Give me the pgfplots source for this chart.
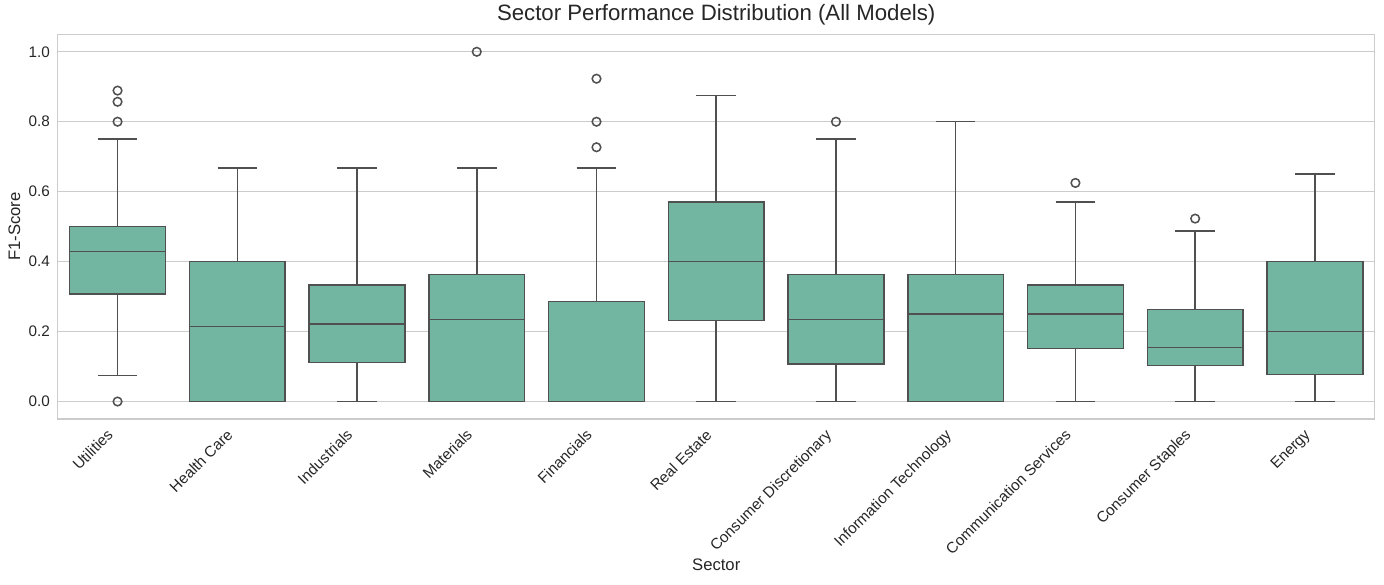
\documentclass[border=0pt]{standalone}
\usepackage{fontspec}
\setmainfont{Liberation Sans}
\usepackage{pgfplots}
\pgfplotsset{compat=1.18}
\usepgfplotslibrary{statistics}
\definecolor{boxfill}{RGB}{114,182,161}
\definecolor{edge}{RGB}{80,80,80}
\definecolor{gridc}{RGB}{204,204,204}
\definecolor{txt}{RGB}{38,38,38}
\pgfplotsset{mybox/.style={draw=edge, fill=boxfill, line width=1.1pt, solid,
  mark=o, mark size=3.1pt, mark options={draw=edge, fill=none, line width=1.1pt, solid}}}
\begin{document}
\begin{tikzpicture}
\begin{axis}[
  scale only axis, width=948.24pt, height=277pt,
  xmin=-0.5, xmax=10.5, ymin=-0.05, ymax=1.05,
  xtick={0,1,2,3,4,5,6,7,8,9,10},
  xticklabels={Utilities,Health Care,Industrials,Materials,Financials,Real Estate,Consumer Discretionary,Information Technology,Communication Services,Consumer Staples,Energy},
  ytick={0,0.2,0.4,0.6,0.8,1.0},
  yticklabels={0.0,0.2,0.4,0.6,0.8,1.0},
  major tick length=0pt,
  ymajorgrids, grid style={draw=gridc, line width=0.8pt},
  axis line style={draw=gridc, line width=1pt},
  tick label style={font=\fontsize{11}{13}\selectfont, text=txt},
  yticklabel style={anchor=east, inner sep=0pt, xshift=-5.5pt},
  xticklabel style={xshift=-8.3pt, yshift=-6.3pt, rotate=45, anchor=north east, inner sep=0pt},
  title={Sector Performance Distribution (All Models)},
  title style={at={(axis description cs:0.5,1.0130)}, anchor=base, font=\fontsize{16}{19}\selectfont, text=txt},
  xlabel={Sector},
  xlabel style={at={(axis description cs:0.5,-0.3942)}, anchor=base, font=\fontsize{12}{14}\selectfont, text=txt},
  ylabel={F1-Score},
  ylabel style={at={(axis description cs:-0.0285,0.5)}, anchor=base, font=\fontsize{12}{14}\selectfont, text=txt},
  boxplot/draw direction=y,
  boxplot/box extend=0.8,
  boxplot/whisker extend=0.33,
]
\addplot[mybox, boxplot prepared={draw position=0, lower whisker=0.074, lower quartile=0.308, median=0.4286, upper quartile=0.5, upper whisker=0.75}] coordinates {(0,0) (0,0.8) (0,0.857) (0,0.889)};
\addplot[mybox, boxplot prepared={draw position=1, lower whisker=0, lower quartile=0, median=0.214, upper quartile=0.4, upper whisker=0.667}] coordinates {};
\addplot[mybox, boxplot prepared={draw position=2, lower whisker=0, lower quartile=0.111, median=0.222, upper quartile=0.333, upper whisker=0.667}] coordinates {};
\addplot[mybox, boxplot prepared={draw position=3, lower whisker=0, lower quartile=0, median=0.234, upper quartile=0.363, upper whisker=0.667}] coordinates {(3,1.0)};
\addplot[mybox, boxplot prepared={draw position=4, lower whisker=0, lower quartile=0, median=0, upper quartile=0.2857, upper whisker=0.667}] coordinates {(4,0.727) (4,0.8) (4,0.923)};
\addplot[mybox, boxplot prepared={draw position=5, lower whisker=0, lower quartile=0.232, median=0.4, upper quartile=0.571, upper whisker=0.875}] coordinates {};
\addplot[mybox, boxplot prepared={draw position=6, lower whisker=0, lower quartile=0.107, median=0.234, upper quartile=0.363, upper whisker=0.75}] coordinates {(6,0.8)};
\addplot[mybox, boxplot prepared={draw position=7, lower whisker=0, lower quartile=0, median=0.25, upper quartile=0.363, upper whisker=0.8}] coordinates {};
\addplot[mybox, boxplot prepared={draw position=8, lower whisker=0, lower quartile=0.151, median=0.25, upper quartile=0.333, upper whisker=0.571}] coordinates {(8,0.625)};
\addplot[mybox, boxplot prepared={draw position=9, lower whisker=0, lower quartile=0.103, median=0.154, upper quartile=0.263, upper whisker=0.487}] coordinates {(9,0.523)};
\addplot[mybox, boxplot prepared={draw position=10, lower whisker=0, lower quartile=0.077, median=0.2, upper quartile=0.4, upper whisker=0.651}] coordinates {};
\end{axis}
\pgfresetboundingbox
\path[use as bounding box] (-41.54pt,-118.8pt) rectangle (954.9pt,301.68pt);
\end{tikzpicture}
\end{document}
